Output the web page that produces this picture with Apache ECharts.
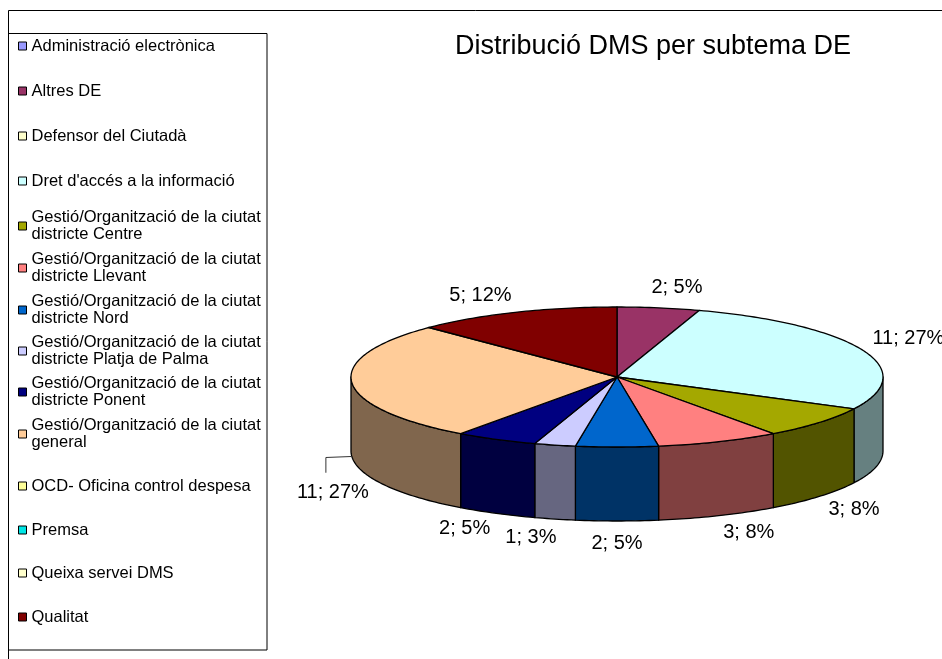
<!DOCTYPE html>
<html><head><meta charset="utf-8">
<script src="https://cdn.jsdelivr.net/npm/echarts@6/dist/echarts.min.js"></script>
<style>html,body{margin:0;padding:0;background:#fff}#c{width:942px;height:659px}</style>
</head><body><div id="c"></div>
<script>
// ---------- data ----------
const chartTitle = 'Distribució DMS per subtema DE';
const categories = [
  'Administració electrònica',
  'Altres DE',
  'Defensor del Ciutadà',
  "Dret d'accés a la informació",
  'Gestió/Organització de la ciutat districte Centre',
  'Gestió/Organització de la ciutat districte Llevant',
  'Gestió/Organització de la ciutat districte Nord',
  'Gestió/Organització de la ciutat districte Platja de Palma',
  'Gestió/Organització de la ciutat districte Ponent',
  'Gestió/Organització de la ciutat general',
  'OCD- Oficina control despesa',
  'Premsa',
  'Queixa servei DMS',
  'Qualitat'
];
const values = [0, 2, 0, 11, 3, 3, 2, 1, 2, 11, 0, 0, 0, 5];
const percentLabels = [0, 5, 0, 27, 8, 8, 5, 3, 5, 27, 0, 0, 0, 12];
const colors = ['#9999FF', '#993366', '#FFFFCC', '#CCFFFF', '#A4A800', '#FF8080', '#0066CC',
                '#CCCCFF', '#000080', '#FFCC99', '#FFFF99', '#00E6E6', '#FFFFCC', '#800000'];

// ---------- layout (not data) ----------
const legendRowY = [46, 91, 136, 181, 226, 268, 310, 351, 392, 434, 486, 530, 573, 617];
const labelNudge = [[0,0],[0,0],[0,0],[0,0],[0,0],[0,0],[0,0],[0,0],[0,0],[27,26],[0,0],[0,0],[0,0],[0,0]];
const PIE = {cx: 617, cy: 377, rx: 266, ry: 70, depth: 74};
const LABEL_FONT = '20px "Liberation Sans"';

const total = values.reduce((a, b) => a + b, 0);
const starts = [];
{ let acc = 0; values.forEach(v => { starts.push(acc); acc += v; }); }

const mctx = document.createElement('canvas').getContext('2d');
mctx.font = LABEL_FONT;

function darken(hex) {
  const n = parseInt(hex.slice(1), 16);
  const r = Math.round(((n >> 16) & 255) * 0.5), g = Math.round(((n >> 8) & 255) * 0.5), b = Math.round((n & 255) * 0.5);
  return 'rgb(' + r + ',' + g + ',' + b + ')';
}
function pt(t, dz) {
  return [PIE.cx + PIE.rx * Math.sin(t), PIE.cy - PIE.ry * Math.cos(t) + (dz || 0)];
}
function arcPts(a, b, dz) {
  const out = [];
  const n = Math.max(2, Math.ceil(Math.abs(b - a) / (Math.PI / 180)));
  for (let k = 0; k <= n; k++) out.push(pt(a + (b - a) * k / n, dz));
  return out;
}

function renderItem(params, api) {
  const i = params.dataIndex;
  const v = api.value(0);
  if (!v) return null;
  const a0 = starts[i] / total * Math.PI * 2;
  const a1 = (starts[i] + v) / total * Math.PI * 2;
  const children = [];
  // outer wall (front half only)
  const s = Math.max(a0, Math.PI / 2), e = Math.min(a1, Math.PI * 1.5);
  if (s < e) {
    const pts = arcPts(s, e, 0).concat(arcPts(e, s, PIE.depth));
    children.push({type: 'polygon', z2: 1, shape: {points: pts},
      style: {fill: darken(colors[i]), stroke: '#000', lineWidth: 1.3, lineJoin: 'round'}});
  }
  // top face
  const topPts = [[PIE.cx, PIE.cy]].concat(arcPts(a0, a1, 0));
  children.push({type: 'polygon', z2: 2, shape: {points: topPts},
    style: {fill: colors[i], stroke: '#000', lineWidth: 1.3, lineJoin: 'round'}});
  // label
  const mid = (a0 + a1) / 2;
  const front = Math.cos(mid) < 0;
  const anchor = pt(mid, front ? PIE.depth : 0);
  let dx = PIE.rx * Math.sin(mid), dy = -PIE.ry * Math.cos(mid);
  const L = Math.hypot(dx, dy); dx /= L; dy /= L;
  const txt = v + '; ' + percentLabels[i] + '%';
  const w = mctx.measureText(txt).width;
  const nud = labelNudge[i];
  const lx = anchor[0] + (w / 2 + 10) * dx + nud[0];
  const ly = anchor[1] + 12 * dy + 10 * Math.sign(dy) + nud[1];
  if (nud[0] || nud[1]) {
    children.push({type: 'polyline', z2: 3, shape: {points: [anchor, [lx - 7, anchor[1] + 1], [lx - 7, ly - 20]]},
      style: {stroke: '#333', lineWidth: 1, fill: null}});
  }
  children.push({type: 'text', z2: 4, style: {text: txt, x: lx, y: ly, align: 'center', verticalAlign: 'middle',
    font: LABEL_FONT, fill: '#000'}});
  return {type: 'group', children: children};
}

function legendLabel(name) {
  return name.replace('ciutat ', 'ciutat\n');
}

const legends = categories.map((name, i) => {
  const twoLine = name.indexOf('ciutat ') >= 0;
  return {
    data: [name],
    left: 18,
    top: legendRowY[i] - (twoLine ? 25.5 : 8.5),
    orient: 'vertical',
    padding: 0,
    icon: 'rect',
    itemWidth: 8,
    itemHeight: 8,
    selectedMode: false,
    formatter: legendLabel,
    itemStyle: {borderColor: '#000', borderWidth: 1},
    textStyle: {fontFamily: 'Liberation Sans', fontSize: 16.5, lineHeight: 17, color: '#000',
      padding: twoLine ? [17, 0, 0, 0] : 0}
  };
});

const chart = echarts.init(document.getElementById('c'), null, {renderer: 'canvas'});
chart.setOption({
  backgroundColor: '#fff',
  animation: false,
  title: {text: chartTitle, left: 455, top: 33, padding: 0,
    textStyle: {fontFamily: 'Liberation Sans', fontSize: 27, fontWeight: 'normal', color: '#000'}},
  legend: legends,
  graphic: [
    {type: 'rect', silent: true, shape: {x: 8.5, y: 10.5, width: 1200, height: 1200},
      style: {fill: 'none', stroke: '#000', lineWidth: 1}},
    {type: 'rect', silent: true, shape: {x: 8.5, y: 33.5, width: 258.5, height: 616.5},
      style: {fill: 'none', stroke: '#000', lineWidth: 1}}
  ],
  series: [
    {
      type: 'pie', name: 'legend-source', silent: true, center: [-400, -400], radius: 5,
      label: {show: false}, labelLine: {show: false},
      data: categories.map((n, i) => ({name: n, value: values[i], itemStyle: {color: colors[i]}}))
    },
    {
      type: 'custom', coordinateSystem: 'none', silent: true,
      renderItem: renderItem,
      data: categories.map((n, i) => ({name: n, value: values[i]}))
    }
  ]
});
</script></body></html>
